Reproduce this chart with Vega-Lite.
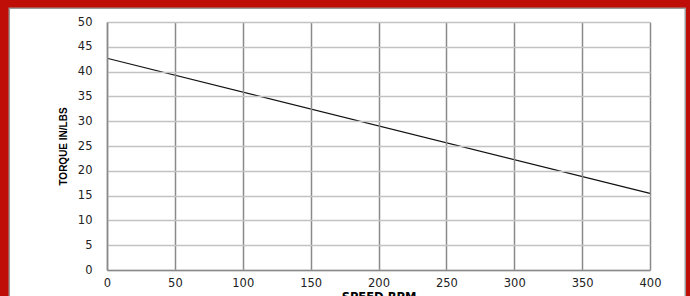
{
  "$schema": "https://vega.github.io/schema/vega-lite/v6.json",
  "width": 543,
  "height": 248,
  "autosize": {"type": "none"},
  "padding": {"left": 107, "top": 22, "right": 40, "bottom": 26},
  "background": "#bf0d07",
  "config": {
    "view": {"stroke": null},
    "axis": {
      "ticks": false,
      "labelFont": "DejaVu Sans",
      "labelFontSize": 11.5,
      "labelColor": "#222222",
      "titleColor": "#000000",
      "titleFontWeight": "bold",
      "domainColor": "#8a8a8a",
      "domainWidth": 1.5,
      "gridOpacity": 1
    },
    "axisX": {
      "labelPadding": 7,
      "labelFlush": false,
      "labelAngle": 0,
      "gridColor": "#8a8a8a",
      "gridWidth": 1.5,
      "titleFont": "DejaVu Sans",
      "titleFontSize": 11.5,
      "titlePadding": 3
    },
    "axisY": {
      "labelPadding": 15,
      "gridColor": "#c2c2c2",
      "gridWidth": 1.5,
      "titleFont": "Liberation Sans",
      "titleFontSize": 10,
      "titlePadding": 9
    }
  },
  "datasets": {
    "panel": [{"x0": -72, "x1": 426, "y0": -10, "y1": 52.76}],
    "torque": [
      {"rpm": 0, "torque": 42.7},
      {"rpm": 400, "torque": 15.45}
    ]
  },
  "layer": [
    {
      "data": {"name": "panel"},
      "mark": {"type": "rect", "fill": "white", "stroke": "#9a9a9a", "strokeWidth": 1.5, "clip": false},
      "encoding": {
        "x": {"field": "x0", "type": "quantitative", "title": "SPEED RPM", "axis": {"zindex": 1, "values": [0, 50, 100, 150, 200, 250, 300, 350, 400]}, "scale": {"domain": [0, 400], "nice": false, "zero": false}},
        "x2": {"field": "x1"},
        "y": {"field": "y0", "type": "quantitative", "title": "TORQUE IN/LBS", "axis": {"zindex": 1, "values": [0, 5, 10, 15, 20, 25, 30, 35, 40, 45, 50]}, "scale": {"domain": [0, 50], "nice": false, "zero": false}},
        "y2": {"field": "y1"}
      }
    },
    {
      "data": {"name": "torque"},
      "mark": {"type": "line", "color": "#111111", "strokeWidth": 1.2},
      "encoding": {
        "x": {"field": "rpm", "type": "quantitative", "title": "SPEED RPM", "axis": {"zindex": 1, "values": [0, 50, 100, 150, 200, 250, 300, 350, 400]}},
        "y": {"field": "torque", "type": "quantitative", "title": "TORQUE IN/LBS", "axis": {"zindex": 1, "values": [0, 5, 10, 15, 20, 25, 30, 35, 40, 45, 50]}}
      }
    }
  ]
}
